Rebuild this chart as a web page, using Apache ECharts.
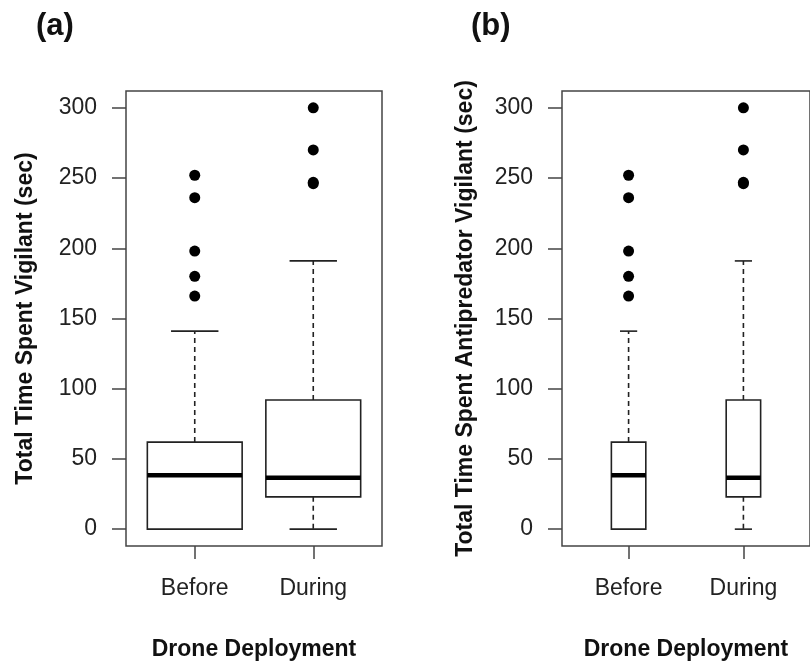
<!DOCTYPE html>
<html>
<head>
<meta charset="utf-8">
<script src="https://cdn.jsdelivr.net/npm/echarts@6/dist/echarts.min.js"></script>
<style>
  html, body { margin: 0; padding: 0; background: #fff; }
  #container { width: 810px; height: 666px; }
</style>
</head>
<body>
<div id="container"></div>
<script>
// categories on the x axis (positions 1 and 2, like R's boxplot)
var categories = ['Before', 'During'];
var catPos = [1, 2];
var yTicks = [0, 50, 100, 150, 200, 250, 300];

// panel (a): total time spent vigilant
var aLow    = [0, 0];
var aQ1     = [0, 23];
var aMedian = [38.3, 36.6];
var aQ3     = [62, 92];
var aHigh   = [141, 191];
var aOutBefore = [252, 236, 198, 180, 166];
var aOutDuring = [300, 270, 247, 246];

// panel (b): total time spent antipredator vigilant
var bLow    = [0, 0];
var bQ1     = [0, 23];
var bMedian = [38.3, 36.6];
var bQ3     = [62, 92];
var bHigh   = [141, 191];
var bOutBefore = [252, 236, 198, 180, 166];
var bOutDuring = [300, 270, 247, 246];

var FONT = 'Liberation Sans, Arial, sans-serif';
var INK = '#222';

function boxRows(low, q1, med, q3, high) {
    var rows = [];
    for (var i = 0; i < catPos.length; i++) {
        rows.push([catPos[i], low[i], q1[i], med[i], q3[i], high[i]]);
    }
    return rows;
}

function outlierRows(before, during) {
    var rows = [];
    before.forEach(function (v) { rows.push([catPos[0], v]); });
    during.forEach(function (v) { rows.push([catPos[1], v]); });
    return rows;
}

// draws an R style box: dashed whiskers, solid staples, thick median
function makeRender(boxWex) {
    return function (params, api) {
        var x = api.value(0);
        var lo = api.coord([x, api.value(1)]);
        var b1 = api.coord([x, api.value(2)]);
        var md = api.coord([x, api.value(3)]);
        var b3 = api.coord([x, api.value(4)]);
        var hi = api.coord([x, api.value(5)]);
        var half = api.size([boxWex, 0])[0] / 2;
        var cx = lo[0];
        var thin = { stroke: INK, lineWidth: 1.6, fill: null };
        var dashed = { stroke: INK, lineWidth: 1.6, lineDash: [5, 4] };
        var kids = [
            { type: 'line', shape: { x1: cx, y1: b3[1], x2: cx, y2: hi[1] }, style: dashed },
            { type: 'line', shape: { x1: cx - half / 2, y1: hi[1], x2: cx + half / 2, y2: hi[1] }, style: thin },
            { type: 'line', shape: { x1: cx - half / 2, y1: lo[1], x2: cx + half / 2, y2: lo[1] }, style: thin },
            { type: 'rect', shape: { x: cx - half, y: b3[1], width: half * 2, height: b1[1] - b3[1] },
              style: { stroke: INK, lineWidth: 1.6, fill: '#fff' } },
            { type: 'line', shape: { x1: cx - half, y1: md[1], x2: cx + half, y2: md[1] },
              style: { stroke: '#000', lineWidth: 4.5 } }
        ];
        if (b1[1] !== lo[1]) {
            kids.unshift({ type: 'line', shape: { x1: cx, y1: b1[1], x2: cx, y2: lo[1] }, style: dashed });
        }
        return { type: 'group', children: kids };
    };
}

function xAxisFor(idx) {
    return {
        gridIndex: idx,
        type: 'value',
        min: 0.42,
        max: 2.58,
        splitLine: { show: false },
        axisLine: { show: false, onZero: false },
        axisTick: { show: true, length: 13, customValues: catPos, lineStyle: { color: '#444', width: 1.5 } },
        axisLabel: {
            customValues: catPos,
            margin: 31,
            fontSize: 23,
            fontFamily: FONT,
            color: INK,
            formatter: function (v) { return categories[Math.round(v) - 1]; }
        },
        name: 'Drone Deployment',
        nameLocation: 'middle',
        nameGap: 92,
        nameTextStyle: { fontSize: 23, fontWeight: 'bold', fontFamily: FONT, color: '#111' }
    };
}

function yAxisFor(idx, title, gap) {
    return {
        gridIndex: idx,
        type: 'value',
        min: -12,
        max: 312,
        splitLine: { show: false },
        axisLine: { show: false, onZero: false },
        axisTick: { show: true, length: 14, customValues: yTicks, lineStyle: { color: '#444', width: 1.5 } },
        axisLabel: {
            customValues: yTicks,
            margin: 29,
            fontSize: 23,
            fontFamily: FONT,
            color: INK
        },
        name: title,
        nameLocation: 'middle',
        nameGap: gap,
        nameTextStyle: { fontSize: 23, fontWeight: 'bold', fontFamily: FONT, color: '#111' }
    };
}

var myChart = echarts.init(document.getElementById('container'));
var option = {
    backgroundColor: '#fff',
    animation: false,
    title: [
        { text: '(a)', left: 36, top: 11, padding: 0, textStyle: { fontSize: 31, fontWeight: 'bold', fontFamily: FONT, color: '#111' } },
        { text: '(b)', left: 471, top: 11, padding: 0, textStyle: { fontSize: 31, fontWeight: 'bold', fontFamily: FONT, color: '#111' } }
    ],
    grid: [
        { left: 126, top: 91, width: 256, height: 457, show: true, borderColor: '#444', borderWidth: 1.5, backgroundColor: 'transparent' },
        { left: 562, top: 91, width: 256, height: 457, show: true, borderColor: '#444', borderWidth: 1.5, backgroundColor: 'transparent' }
    ],
    xAxis: [xAxisFor(0), xAxisFor(1)],
    yAxis: [
        yAxisFor(0, 'Total Time Spent Vigilant (sec)', 89),
        yAxisFor(1, 'Total Time Spent Antipredator Vigilant (sec)', 85)
    ],
    series: [
        {
            type: 'custom', xAxisIndex: 0, yAxisIndex: 0,
            renderItem: makeRender(0.8),
            data: boxRows(aLow, aQ1, aMedian, aQ3, aHigh)
        },
        {
            type: 'scatter', xAxisIndex: 0, yAxisIndex: 0,
            symbolSize: 11, itemStyle: { color: '#000', opacity: 1 },
            data: outlierRows(aOutBefore, aOutDuring)
        },
        {
            type: 'custom', xAxisIndex: 1, yAxisIndex: 1,
            renderItem: makeRender(0.3),
            data: boxRows(bLow, bQ1, bMedian, bQ3, bHigh)
        },
        {
            type: 'scatter', xAxisIndex: 1, yAxisIndex: 1,
            symbolSize: 11, itemStyle: { color: '#000', opacity: 1 },
            data: outlierRows(bOutBefore, bOutDuring)
        }
    ]
};
myChart.setOption(option);
</script>
</body>
</html>
